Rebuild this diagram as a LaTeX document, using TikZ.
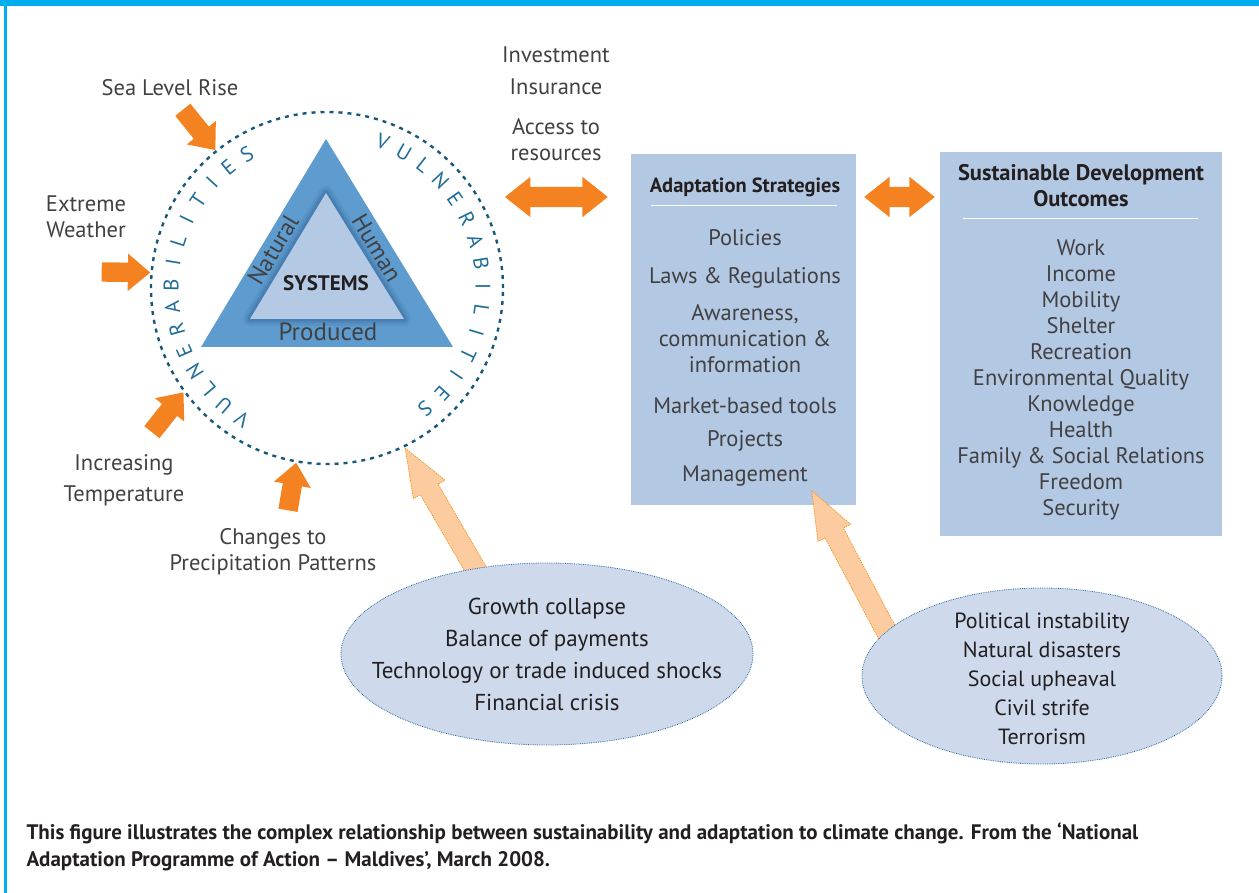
\documentclass[tikz,border=0pt]{standalone}
\usepackage{fontspec}
\setmainfont{PT Sans}
\usetikzlibrary{shapes,arrows,calc}

\definecolor{framecyan}{HTML}{00AEEF}
\definecolor{arroworange}{HTML}{F58220}
\definecolor{peach}{HTML}{FCCB9F}
\definecolor{peachline}{HTML}{F7941D}
\definecolor{boxblue}{HTML}{B3C8E3}
\definecolor{ellfill}{HTML}{CEDAEC}
\definecolor{ellline}{HTML}{2A6A9E}
\definecolor{ringblue}{HTML}{17587B}
\definecolor{letterblue}{HTML}{1F6D97}
\definecolor{triblue}{HTML}{5E9BCE}
\definecolor{trilight}{HTML}{B3C9E4}
\definecolor{trishade}{HTML}{2F5F92}
\definecolor{textgray}{HTML}{414042}
\definecolor{textdark}{HTML}{231F20}

\newcommand{\itemfont}{\fontsize{22.5}{26}\selectfont}
\newcommand{\blockarrow}[4][0]{\path let \p1=($(#4)-(#3)$) in (#4) node[#2, anchor=tip, rotate={atan2(\y1,\x1)}, minimum height={veclen(\x1,\y1)+#1}] {};}
\newcommand{\linkarrow}[3]{\path let \p1=($(#3)-(#2)$) in ($(#2)!0.5!(#3)$) node[#1, rotate={atan2(\y1,\x1)}, minimum height={veclen(\x1,\y1)}] {};}

\pgfdeclarelayer{front}
\pgfsetlayers{main,front}

\tikzstyle{cause} = [font=\itemfont, text=textgray, align=center]
\tikzstyle{entry} = [font=\itemfont, text=textgray, align=center]
\tikzstyle{heading} = [font=\fontsize{20.5}{26}\selectfont\bfseries, text=textdark, align=center]
\tikzstyle{box} = [rectangle, fill=boxblue, inner sep=0pt]
\tikzstyle{rule} = [draw=white, line width=1.2pt]
\tikzstyle{shock} = [ellipse, draw=ellline, densely dotted, line width=0.8pt, fill=ellfill, inner sep=0pt]
\tikzstyle{shocktext} = [font=\fontsize{23}{32}\selectfont, text=textdark, align=center]
\tikzstyle{push} = [single arrow, fill=arroworange, inner sep=9.5pt, single arrow head extend=9pt, single arrow tip angle=80]
\tikzstyle{lead} = [single arrow, fill=peach, draw=peachline, dash pattern=on 1.5pt off 1pt, line width=0.7pt, inner sep=10pt, single arrow head extend=8pt, single arrow tip angle=42]
\tikzstyle{link} = [double arrow, fill=arroworange, inner sep=10pt, double arrow head extend=10pt, double arrow tip angle=77]
\tikzstyle{ring} = [circle, draw=ringblue, line width=2.4pt, dash pattern=on 4pt off 5pt, minimum size=352pt, inner sep=0pt]
\tikzstyle{letter} = [font=\fontsize{21}{21}\selectfont, text=letterblue, inner sep=0pt]
\tikzstyle{side} = [font=\fontsize{24}{24}\selectfont, text=textgray]
\tikzstyle{caption} = [font=\fontsize{21}{27}\selectfont\bfseries, text=textdark, align=left]

\begin{document}
\begin{tikzpicture}[x=1pt, y=-1pt]
\useasboundingbox (0,0) rectangle (1259,893);
\fill[framecyan] (0,0) rectangle (1259,6);
\fill[framecyan] (4,0) rectangle (6.5,893);

% systems and vulnerabilities
\node[ring] (vuln) at (327,288) {};
\fill[triblue] (201,347) -- (326,139) -- (453,347) -- cycle;
\foreach \w/\o in {14/0.12, 9/0.18, 5/0.25}
  \draw[trishade, line width=\w pt, opacity=\o, line join=round] (250,319) -- (326,193) -- (404,319) -- cycle;
\fill[trilight] (250,319) -- (326,193) -- (404,319) -- cycle;
\node[side, rotate=59] (natural) at (273,250) {Natural};
\node[side, rotate=-59] (human) at (377,248) {Human};
\node[side, font=\fontsize{25}{25}\selectfont] (produced) at (328,332) {Produced};
\node[font=\fontsize{21}{21}\selectfont\bfseries, text=textdark] (systems) at (326,283) {SYSTEMS};

\foreach \ch [count=\i from 0] in {V,U,L,N,E,R,A,B,I,L,I,T,I,E,S} {
  \pgfmathsetmacro{\a}{237-8.29*\i}
  \node[letter, rotate=\a-90] (vl\i) at ($(vuln.center)+(\a:156pt)$) {\ch};
  \pgfmathsetmacro{\b}{69-8.57*\i}
  \node[letter, rotate=\b-90] (vr\i) at ($(vuln.center)+(\b:156pt)$) {\ch};
}

% pressures
\node[cause] (sea) at (170,88) {Sea Level Rise};
\node[cause] (weather) at (86,217) {Extreme\\Weather};
\node[cause, font=\fontsize{22.5}{31}\selectfont] (temp) at (124,480) {Increasing\\Temperature};
\node[cause] (rain) at (273,552) {Changes to\\Precipitation Patterns};
\coordinate (seaT) at (183,110);
\coordinate (weatherT) at (102,272);
\coordinate (tempT) at (152,432);
\coordinate (rainT) at (288,510);
\blockarrow{push}{seaT}{vuln.129}
\blockarrow{push}{weatherT}{vuln.175}
\blockarrow{push}{tempT}{vuln.216}
\blockarrow{push}{rainT}{vuln.260}

% finance
\node[cause] (invest) at (556,55) {Investment};
\node[cause, below of=invest, node distance=32pt] (insure) {Insurance};
\node[cause] (access) at (556,140) {Access to\\resources};

% strategies
\node[box, minimum width=225pt, minimum height=351pt] (adapt) at (743.5,329.5) {};
\node[heading] (adtitle) at (745,187) {Adaptation Strategies};
\draw[rule] ($(adapt.north west)+(20,52)$) -- ($(adapt.north east)+(-19,52)$);
\node[entry] (policies) at (745,238) {Policies};
\node[entry, below of=policies, node distance=40pt] (laws) {Laws \& Regulations};
\node[entry, below of=laws, node distance=61pt] (aware) {Awareness,\\communication \&\\information};
\node[entry, below of=aware, node distance=67pt] (market) {Market-based tools};
\node[entry, below of=market, node distance=35pt] (projects) {Projects};
\node[entry, below of=projects, node distance=35pt] (manage) {Management};

% outcomes
\node[box, minimum width=282pt, minimum height=384pt] (outcome) at (1081,344) {};
\node[heading, font=\fontsize{22.5}{26}\selectfont\bfseries] (sdtitle) at (1081,186) {Sustainable Development\\Outcomes};
\draw[rule] ($(outcome.north west)+(23,67)$) -- ($(outcome.north east)+(-24,67)$);
\node[entry] (outlist) at (1081,380) {Work\\Income\\Mobility\\Shelter\\Recreation\\Environmental Quality\\Knowledge\\Health\\Family \& Social Relations\\Freedom\\Security};

% links
\coordinate (resL) at (505,197);
\coordinate (resR) at ($(adapt.west |- resL)+(-23,0)$);
\coordinate (linkL) at ($(adapt.east |- resL)+(8,0)$);
\coordinate (linkR) at ($(outcome.west |- resL)+(-5,0)$);
\linkarrow{link}{resL}{resR}
\linkarrow{link}{linkL}{linkR}

% shocks
\begin{pgfonlayer}{front}
\node[shock, minimum width=412pt, minimum height=182pt] (econ) at (547,654) {};
\node[shocktext] (econtxt) at (econ) {Growth collapse\\Balance of payments\\Technology or trade induced shocks\\Financial crisis};
\node[shock, minimum width=360pt, minimum height=176pt] (social) at (1042,676) {};
\node[shocktext, font=\fontsize{22}{29}\selectfont] (socialtxt) at (1042,679) {Political instability\\Natural disasters\\Social upheaval\\Civil strife\\Terrorism};
\end{pgfonlayer}
\blockarrow[10]{lead}{econ.130}{vuln.-64}
\blockarrow[10]{lead}{social.164}{manage.south east}

\node[caption, anchor=west] (note) at (23,846.5) {This figure illustrates the complex relationship between sustainability and adaptation to climate change. From the ‘National\\Adaptation Programme of Action – Maldives’, March 2008.};
\end{tikzpicture}
\end{document}
